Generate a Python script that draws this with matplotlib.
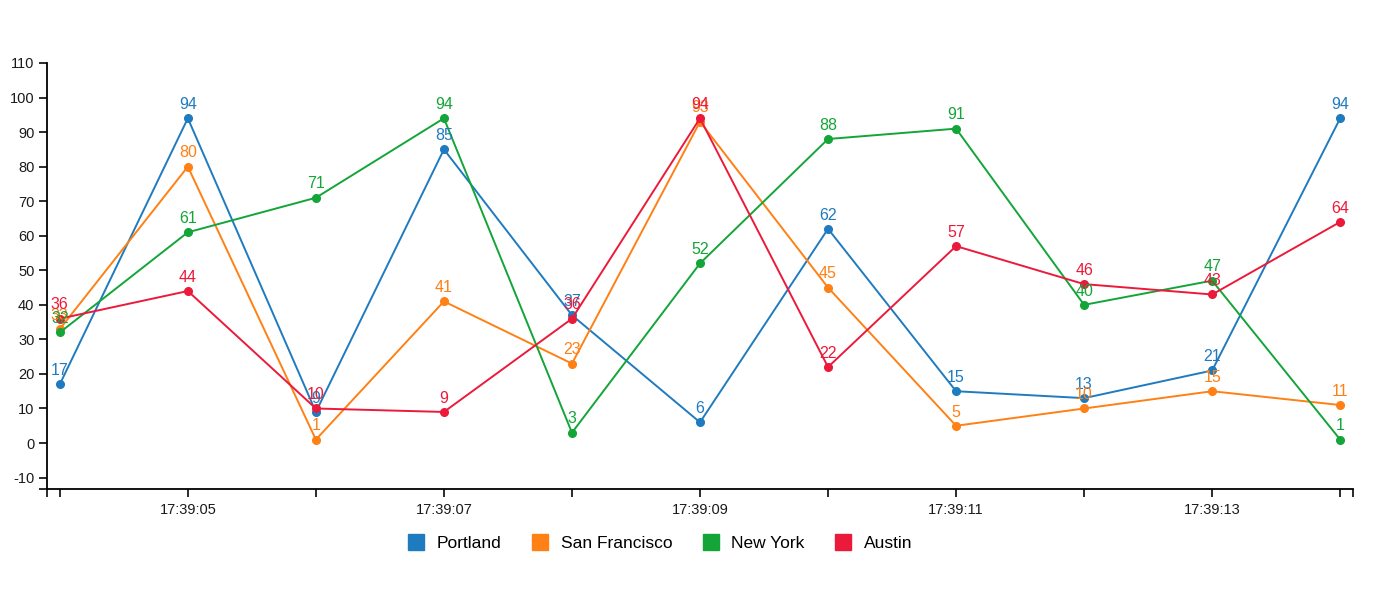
import numpy as np
import matplotlib.pyplot as plt
from matplotlib.lines import Line2D

plt.rcParams['font.family'] = ['Liberation Sans', 'DejaVu Sans']

# Data
times = ['17:39:04', '17:39:05', '17:39:06', '17:39:07', '17:39:08', '17:39:09',
         '17:39:10', '17:39:11', '17:39:12', '17:39:13', '17:39:14']
portland = [17, 94, 9, 85, 37, 6, 62, 15, 13, 21, 94]
san_francisco = [33, 80, 1, 41, 23, 93, 45, 5, 10, 15, 11]
new_york = [32, 61, 71, 94, 3, 52, 88, 91, 40, 47, 1]
austin = [36, 44, 10, 9, 36, 94, 22, 57, 46, 43, 64]

series = [("Portland", portland, '#1f7bbf'),
          ("San Francisco", san_francisco, '#ff8014'),
          ("New York", new_york, '#13a538'),
          ("Austin", austin, '#ec1a3a')]

fig = plt.figure(figsize=(13.8, 6), dpi=100)
ax = fig.add_axes([47/1380, 1-489/600, (1353-47)/1380, (489-63)/600])

x = np.arange(len(times))
for name, vals, col in series:
    ax.plot(x, vals, color=col, lw=1.4, marker='o', markersize=5.5, zorder=2)
    for xi, v in zip(x, vals):
        ax.annotate(str(v), (xi, v), xytext=(0, 4.5), textcoords='offset points',
                    ha='center', va='bottom', color=col, fontsize=11.5, zorder=3)

ax.set_xlim(-0.1, 10.1)
ax.set_ylim(-13.3, 110)

# ticks (with outer ticks at domain ends like d3)
yt = list(range(-10, 111, 10))
ax.set_yticks(yt + [-13.3])
ax.set_yticklabels([str(v) for v in yt] + [''])
xlabels = [t if i % 2 == 1 else '' for i, t in enumerate(times)]
ax.set_xticks(list(x) + [-0.1, 10.1])
ax.set_xticklabels(xlabels + ['', ''])

for s in ['top', 'right']:
    ax.spines[s].set_visible(False)
for s in ['left', 'bottom']:
    ax.spines[s].set_linewidth(1.3)
ax.tick_params(axis='both', length=6, width=1.3, labelsize=10.5, colors='#1a1a1a', pad=3)
ax.tick_params(axis='x', pad=4)

handles = [Line2D([], [], marker='s', color=c, ls='', markersize=12) for _, _, c in series]
fig.legend(handles, [n for n, _, _ in series], loc='center', bbox_to_anchor=(0.475, 1-543/600),
           ncol=4, frameon=False, fontsize=12.5, handletextpad=0.2, columnspacing=1.2)

fig.savefig('out.png', dpi=100)
